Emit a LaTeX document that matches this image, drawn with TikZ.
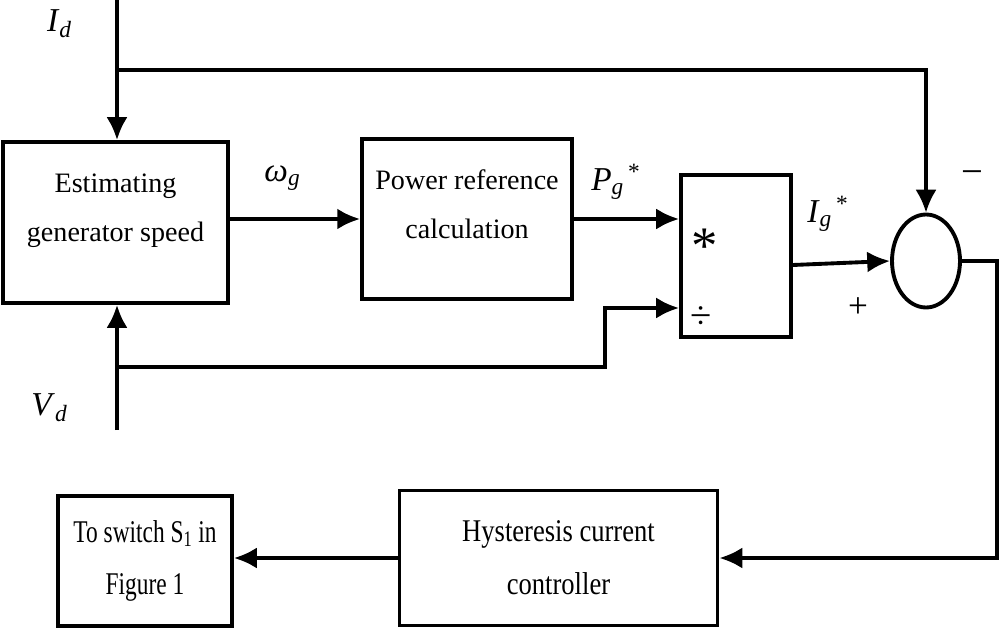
\documentclass[tikz,border=0pt]{standalone}
\usepackage{fontspec}
\setmainfont{Liberation Serif}
\usepackage{tikz}
\usetikzlibrary{arrows.meta,shapes.geometric,calc}
\tikzset{>={Latex[length=13pt,width=12pt]}}
\newcommand{\sig}[3]{\textit{#1}\textsubscript{\textit{#2}}\textsuperscript{#3}}
\newcommand{\narrow}[2][0.84]{\scalebox{#1}[1]{#2}}

\begin{document}
\begin{tikzpicture}[x=0.02cm,y=-0.02cm,line width=2.2pt,
  blk/.style={draw,rectangle,align=center,font=\fontsize{16}{28}\selectfont},
  lbl/.style={inner sep=0pt,font=\fontsize{19}{20}\selectfont},
  sumnode/.style={draw,ellipse,minimum width=1.36cm,minimum height=1.86cm,inner sep=0pt}]
\useasboundingbox (0,0) rectangle (1000,631);
\node[blk,minimum width=4.5cm,minimum height=3.22cm,text depth=0.6cm] (est) at (115.5,222.5) {Estimating\\generator speed};
\node[blk,minimum width=4.2cm,minimum height=3.2cm,text depth=0.6cm] (pow) at (467,219) {Power reference\\calculation};
\node[blk,minimum width=2.2cm,minimum height=3.24cm] (mul) at (736,256) {};
\node[sumnode] (sum) at (926,261) {};
\node[blk,font=\fontsize{18}{30}\selectfont,minimum width=6.36cm,minimum height=2.7cm] (hyst) at (558.5,558) {\narrow{Hysteresis current}\\\narrow{controller}};
\node[blk,font=\fontsize{18}{30}\selectfont,minimum width=3.48cm,minimum height=2.6cm] (sw) at (145,561) {\narrow[0.74]{To switch S\textsubscript{1} in}\\\narrow[0.74]{Figure 1}};
\node[lbl,font=\fontsize{30}{30}\selectfont] (times) at (705,246) {*};
\node[lbl,font=\fontsize{22}{22}\selectfont] (divide) at (701,318) {÷};
\node[lbl] (id) at (60,24) {\sig{I}{d}{}};
\node[lbl] (vd) at (50,408) {\sig{V}{d}{}};
\node[lbl] (wg) at (283,178) {\sig{ω}{g}{}};
\node[lbl] (pg) at (616,182) {\sig{P}{g}{\,*}};
\node[lbl] (ig) at (828,214) {\sig{I}{g}{\,*}};
\node[lbl,font=\fontsize{22}{22}\selectfont] (minus) at (972,178) {−};
\node[lbl,font=\fontsize{20}{20}\selectfont] (plus) at (858,308) {+};
\coordinate (idtop) at (117,0);
\coordinate (idbr) at (117,70);
\coordinate (vdbot) at (117,430);
\coordinate (vdbr) at (117,367);
\draw[->] (idtop) -- (idtop |- est.north);
\draw[line width=1.8pt,->] (idbr) -| (sum);
\draw[->] (vdbot) -- (vdbot |- est.south);
\draw[->] (vdbr) -- (605,367) |- ([yshift=-1.04cm]mul.west);
\draw[->] (est.east |- pow.west) -- (pow.west);
\draw[->] (pow.east) -- (pow.east -| mul.west);
\draw[->] ([yshift=-0.18cm]mul.east) -- (sum.west);
\draw[->] (sum.east) -- ++(35,0) |- (hyst.east);
\draw[->] (hyst.west) -- (sw.east |- hyst.west);
\end{tikzpicture}
\end{document}
